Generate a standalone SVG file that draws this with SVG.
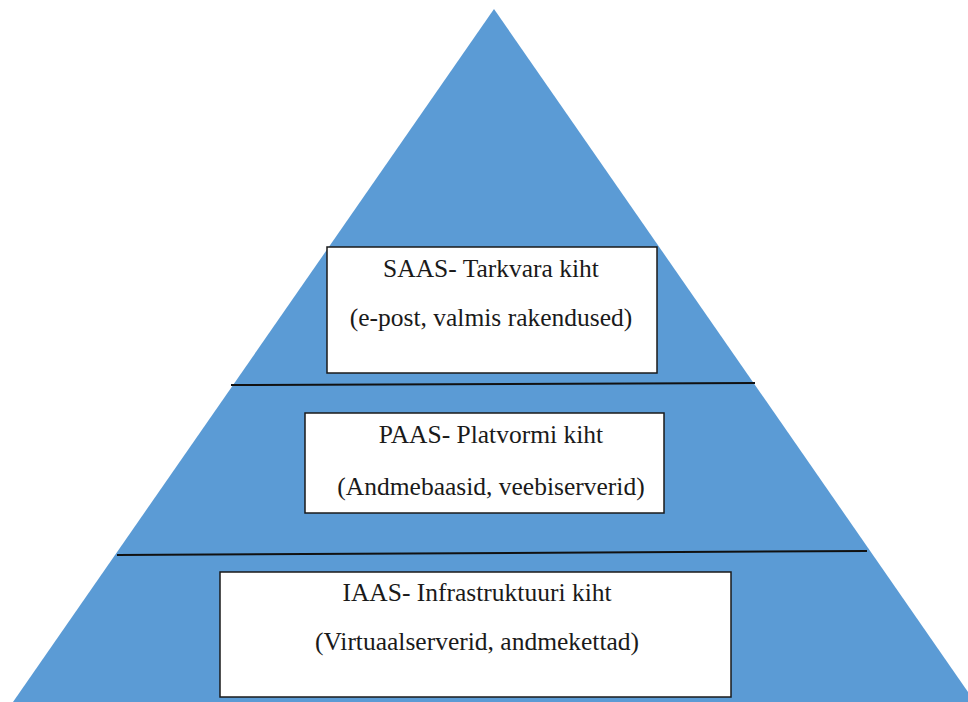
<svg xmlns="http://www.w3.org/2000/svg" width="968" height="702" viewBox="0 0 968 702">
  <style>
    .pyramid { fill: #5b9bd5; stroke: none; }
    .divider { stroke: #111; stroke-width: 2; fill: none; }
    .box { fill: #ffffff; stroke: #1a1a1a; stroke-width: 1.5; }
    .label { font-family: 'Liberation Serif', 'DejaVu Serif', serif; font-size: 25.5px; fill: #1a1a1a; text-anchor: middle; }
  </style>
  <rect width="968" height="702" fill="#ffffff"/>
  <!-- pyramid body -->
  <polygon class="pyramid" points="494,9 975,702 13,702"/>
  <!-- layer dividers -->
  <g id="dividers">
    <line class="divider" x1="231" y1="385" x2="755" y2="383"/>
    <line class="divider" x1="117" y1="555" x2="867" y2="551"/>
  </g>
  <g id="saas">
    <rect class="box" x="327" y="247" width="330" height="126"/>
    <text class="label" font-family="Liberation Serif, DejaVu Serif, serif" x="491" y="277">SAAS- Tarkvara kiht</text>
    <text class="label" font-family="Liberation Serif, DejaVu Serif, serif" x="491" y="326">(e-post, valmis rakendused)</text>
  </g>
  <g id="paas">
    <rect class="box" x="305" y="413" width="359" height="100"/>
    <text class="label" font-family="Liberation Serif, DejaVu Serif, serif" x="491" y="443">PAAS- Platvormi kiht</text>
    <text class="label" font-family="Liberation Serif, DejaVu Serif, serif" x="491" y="495">(Andmebaasid, veebiserverid)</text>
  </g>
  <g id="iaas">
    <rect class="box" x="220" y="572" width="511" height="125"/>
    <text class="label" font-family="Liberation Serif, DejaVu Serif, serif" x="477" y="601">IAAS- Infrastruktuuri kiht</text>
    <text class="label" font-family="Liberation Serif, DejaVu Serif, serif" x="477" y="650">(Virtuaalserverid, andmekettad)</text>
  </g>
</svg>
